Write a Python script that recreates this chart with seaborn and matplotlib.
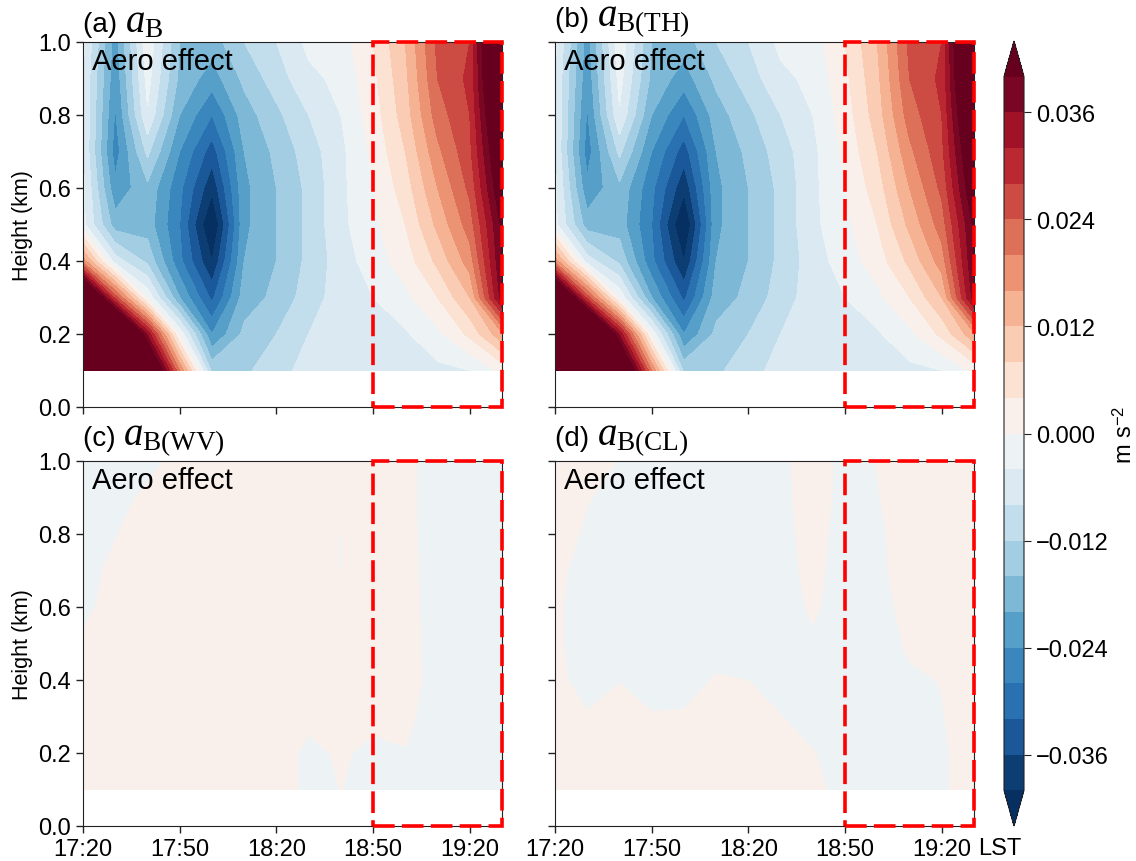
import numpy as np
import matplotlib
matplotlib.use("Agg")
import matplotlib.pyplot as plt
from matplotlib.patches import Rectangle
from matplotlib.ticker import FuncFormatter
from matplotlib.offsetbox import TextArea, HPacker, AnnotationBbox
import seaborn as sns

# axes: minutes after 17:20 (10-min output) and height (km), top row first
minutes = [0, 10, 20, 30, 40, 50, 60, 70, 80, 90, 100, 110, 120, 130]
heights = [1.0, 0.9, 0.8, 0.7, 0.6, 0.5, 0.4, 0.3, 0.2, 0.1]
tick_minutes = [0, 30, 60, 90, 120]
tick_labels = ["17:20", "17:50", "18:20", "18:50", "19:20"]
box_minutes = [90, 130]   # 18:50 - 19:30 window
cbar_ticks = [-0.036, -0.024, -0.012, 0.0, 0.012, 0.024, 0.036]

# buoyancy acceleration, units 1e-3 m s-2 (rows = heights, cols = minutes)
aB = [
    [-3, -22, -1.0, -16, -18, -12, -8, -3, -2, 4, 12, 25, 28, 60],
    [-4, -23, -2.5, -17, -22, -15, -10, -5, -3, 3, 11, 24, 29, 56],
    [-4, -24.5, -4.5, -20, -28, -18, -13, -8, -4, 2, 10, 22, 28, 52],
    [-4, -26, -11, -24, -34, -20, -15, -10, -5, 1, 8, 19, 27, 48],
    [-3, -23, -17, -27, -39, -21, -16, -11, -5, 0, 6, 16, 25, 45],
    [-3, -18, -18, -28, -45, -21, -16, -11, -5, -1, 4, 13, 22, 41],
    [18, -6, -13, -27, -40, -20, -16, -11, -6, -2, 2, 9, 18, 40],
    [62, 26, -1, -20, -33, -18, -15, -10, -6, -4, -1, 4, 12, 38],
    [80, 72, 35, -1, -24, -15, -12, -8, -6, -5, -4.5, -1, 5, 15],
    [80, 80, 58, 20, -13, -13, -9, -7, -6, -6, -6, -5, -4, 1],
]
aB_TH = [
    [-3, -22, -1.0, -16, -18, -12, -8, -3, -2, 4, 12, 25, 28, 60],
    [-4, -23, -2.5, -17, -22, -15, -10, -5, -3, 3, 11, 24, 29, 56],
    [-4, -24.5, -4.5, -20, -28, -18, -13, -8, -4, 2, 10, 22, 28, 52],
    [-4, -26, -11, -24, -34, -20, -15, -10, -5, 1, 8, 19, 27, 48],
    [-3, -23, -17, -27, -39, -21, -16, -11, -5, 0, 6, 16, 25, 45],
    [-3, -18, -18, -28, -45, -21, -16, -11, -5, -1, 4, 13, 22, 41],
    [18, -6, -13, -27, -40, -20, -16, -11, -6, -2, 2, 9, 18, 40],
    [62, 26, -1, -20, -33, -18, -15, -10, -6, -4, -1, 4, 12, 38],
    [80, 72, 35, -1, -24, -15, -12, -8, -6, -5, -4.5, -1, 5, 15],
    [80, 80, 58, 20, -13, -13, -9, -7, -6, -6, -6, -5, -4, 1],
]
aB_WV = [
    [-1.0, -0.8, -0.5, 0.5, 1, 1, 1.5, 1, 1, 1, 0.5, -1, -1, -1],
    [-1.0, -0.5, 0.3, 1, 1, 1, 1.5, 1, 1, 1, 0.5, -1, -1, -1],
    [-1.0, -0.1, 1, 1, 1, 1, 1.5, 1, -0.05, 1, 0.6, -1, -1, -1],
    [-0.8, 0.5, 1, 1, 1, 1, 1.5, 1, -0.05, 1, 0.7, -1, -1, -1],
    [-0.5, 0.8, 1, 1, 1, 1, 1.5, 1, 1, 1, 0.8, -1, -1, -1],
    [0.3, 1, 1, 1, 1, 1, 1.5, 1, 1, 1, 0.9, -1, -1, -1],
    [0.5, 1, 1, 1, 1, 1, 1.5, 1, 1, 1, 1.0, -1, -1, -1],
    [0.5, 1, 1, 1, 1, 1, 1.5, 1, 1, 1, 0.5, -1, -1, -1],
    [0.5, 1, 1, 1, 1, 1, 2, -1, 0.5, -1, -0.1, -1, -1, -1],
    [0.5, 1, 1, 1, 1, 1, 2, -1, 0.05, -1, -0.5, -1, -1, -1],
]
aB_CL = [
    [1, 0.5, -0.05, -1, -1, -1, -1, -0.5, 1, -0.6, 0.05, 1, 1, 1],
    [1, 0.1, -0.5, -1, -1, -1, -1, -0.6, 1, -0.7, -0.1, 1, 1, 1],
    [1, -0.33, -1, -1, -1, -1, -1, -0.7, 0.8, -0.9, -0.4, 1, 1, 1],
    [0.5, -0.8, -1, -1, -1, -1, -1, -0.8, 0.6, -1, -0.5, 1, 1, 1],
    [0.3, -0.9, -1, -1, -1, -1, -1, -1, 0.3, -1, -0.8, 0.7, 1, 1],
    [0.3, -0.9, -1, -1, -1, -1, -1, -1, -0.3, -1, -1, 0.3, 1, 1],
    [0.5, -0.75, -0.1, -1, -1, 0.2, -0.02, -1, -1, -1, -1, -0.3, 0.06, 1],
    [1, 0.13, 1, 0.15, 0.25, 1, 1, 0.05, -1, -1, -1, -1, -0.1, 1],
    [1, 1, 1, 1, 1, 1, 1, 1, 0.1, -1, -1, -1, -0.3, 1],
    [1, 1, 1, 1, 1, 1, 1, 1, 0.7, -1, -1, -1, -0.3, 1],
]

panel_tags = ["(a)", "(b)", "(c)", "(d)"]
symbols = [r"$a_\mathrm{B}$", r"$a_\mathrm{B(TH)}$",
           r"$a_\mathrm{B(WV)}$", r"$a_\mathrm{B(CL)}$"]
fields = [aB, aB_TH, aB_WV, aB_CL]

sns.set_style("ticks")
plt.rcParams["font.family"] = ["Liberation Sans", "DejaVu Sans"]
plt.rcParams["mathtext.fontset"] = "custom"
plt.rcParams["mathtext.rm"] = "Liberation Serif"
plt.rcParams["mathtext.it"] = "Liberation Serif:italic"
plt.rcParams["mathtext.sf"] = "Liberation Sans"
plt.rcParams["text.color"] = "black"
plt.rcParams["axes.labelcolor"] = "black"
plt.rcParams["axes.edgecolor"] = "#222222"
plt.rcParams["xtick.color"] = "#222222"
plt.rcParams["ytick.color"] = "#222222"
plt.rcParams["xtick.labelcolor"] = "black"
plt.rcParams["ytick.labelcolor"] = "black"

cmap = sns.color_palette("RdBu_r", as_cmap=True)
levels = np.linspace(-0.04, 0.04, 21)

fig = plt.figure(figsize=(11.36, 8.62), dpi=100)
W, H = 1136, 862
lefts = [83, 555, 83, 555]
bottoms = [408, 408, 827, 827]
axes = []
for i in range(4):
    ax = fig.add_axes([lefts[i] / W, 1 - bottoms[i] / H, 419 / W, 365 / H])
    axes.append(ax)

for i, ax in enumerate(axes):
    z = np.array(fields[i]) * 1e-3
    cf = ax.contourf(minutes, heights, z, levels=levels, cmap=cmap, extend="both")
    ax.add_patch(Rectangle((box_minutes[0], 0), box_minutes[1] - box_minutes[0], 1.0,
                           fill=False, edgecolor="red", lw=2.6,
                           linestyle=(0, (6, 2)), zorder=5, clip_on=False))
    ax.set_xlim(0, 130)
    ax.set_ylim(0, 1.0)
    ax.set_xticks(tick_minutes)
    ax.set_yticks([0, 0.2, 0.4, 0.6, 0.8, 1.0])
    ax.tick_params(labelsize=17, length=5, width=1)
    if i >= 2:
        ax.set_xticklabels(tick_labels)
    else:
        ax.set_xticklabels([])
    if i % 2 == 0:
        ax.set_yticklabels(["0.0", "0.2", "0.4", "0.6", "0.8", "1.0"])
        ax.set_ylabel("Height (km)", fontsize=15.5)
    else:
        ax.set_yticklabels([])

    # title: sans panel tag followed by a larger serif symbol
    tag = TextArea(panel_tags[i] + " ", textprops=dict(fontsize=20))
    sym = TextArea(symbols[i], textprops=dict(fontsize=28))
    box = HPacker(children=[tag, sym], align="baseline", pad=0, sep=0)
    ax.add_artist(AnnotationBbox(box, (0, 1), xycoords="axes fraction",
                                 xybox=(0, 2), boxcoords="offset points",
                                 box_alignment=(0, 0), frameon=False, pad=0))

    ax.text(0.022, 0.926, "Aero effect", transform=ax.transAxes,
            fontsize=21, va="baseline", ha="left")

axes[3].annotate("LST", xy=(1, 0), xycoords="axes fraction", xytext=(3, -8),
                 textcoords="offset points", ha="left", va="top", fontsize=17)

cax = fig.add_axes([1004 / W, 1 - 827 / H, 20 / W, (827 - 42) / H])
cb = fig.colorbar(cf, cax=cax, ticks=cbar_ticks, extend="both")
cb.ax.yaxis.set_major_formatter(
    FuncFormatter(lambda v, p: f"{round(v, 6) + 0.0:.3f}".replace("-", "\u2212")))
cb.ax.tick_params(labelsize=17, length=5)
cb.set_label(r"m s$^{\mathsf{-2}}$", fontsize=17, labelpad=3)
cb.outline.set_linewidth(0.8)

fig.savefig("out.png", dpi=100)
